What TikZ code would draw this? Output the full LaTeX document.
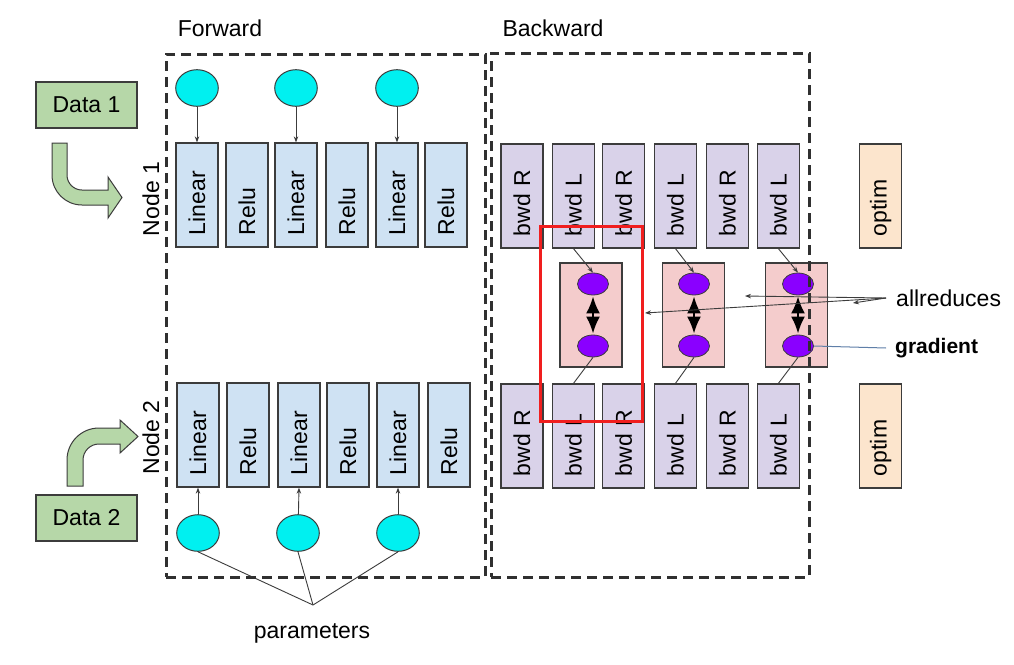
\documentclass[tikz,border=0pt]{standalone}
\usepackage{fontspec}
\setmainfont{Liberation Sans}
\usetikzlibrary{arrows.meta,shapes.geometric}

\definecolor{fwdblue}{HTML}{CFE2F3}
\definecolor{bwdlilac}{HTML}{D9D2E9}
\definecolor{optimpeach}{HTML}{FCE5CD}
\definecolor{reducepink}{HTML}{F4CCCC}
\definecolor{gradviolet}{HTML}{8A00FF}
\definecolor{paramcyan}{HTML}{00F0F0}
\definecolor{datagreen}{HTML}{B6D7A8}
\definecolor{edgegray}{HTML}{3C3C3C}
\definecolor{dashgray}{HTML}{303030}
\definecolor{gradline}{HTML}{5F7FA8}
\definecolor{focusred}{HTML}{F01E1E}

\newcommand\diagfont{\fontsize{23}{27}\selectfont}

\begin{document}
\begin{tikzpicture}[x=1pt,y=-1pt,
  every node/.style={font=\diagfont},
  layer/.style={draw=edgegray, line width=1.3pt, rotate=90, minimum height=42pt,
    text width=80pt, inner xsep=12pt, inner ysep=0pt, align=left},
  fwd/.style={layer, fill=fwdblue},
  bwd/.style={layer, fill=bwdlilac},
  opt/.style={layer, fill=optimpeach},
  param/.style={ellipse, draw=edgegray, line width=1pt, fill=paramcyan,
    minimum width=42.6pt, minimum height=36.6pt, inner sep=0pt},
  gradnode/.style={ellipse, draw=edgegray, line width=0.8pt, fill=gradviolet,
    minimum width=31pt, minimum height=22pt, inner sep=0pt},
  reducebox/.style={draw=edgegray, line width=1.3pt, fill=reducepink,
    minimum width=62pt, minimum height=104pt, inner sep=0pt},
  databox/.style={draw=edgegray, line width=1.3pt, fill=datagreen,
    minimum width=101pt, minimum height=46pt, inner sep=0pt},
  dashbox/.style={draw=dashgray, line width=3pt, dash pattern=on 10pt off 6pt,
    inner sep=0pt},
  bentarrow/.style={draw=edgegray, line width=1pt, fill=datagreen, line join=miter},
  thinarrow/.style={draw=edgegray, line width=0.9pt, -{Stealth[length=6pt,width=4.5pt]}},
  thinline/.style={draw=edgegray, line width=0.9pt},
  bothway/.style={line width=2.2pt, shorten <=1pt, shorten >=1pt,
    {Latex[length=17pt 0,width=14pt 0]}-{Latex[length=17pt 0,width=14pt 0]}},
]
\fill[white] (0,0) rectangle (1014,664);
\useasboundingbox (0,0) rectangle (1014,664);

% section titles
\node (fwdtitle) at (220,28) {Forward};
\node (bwdtitle) at (553,28) {Backward};

% input data and bent arrows
\node[databox] (d1) at (86.5,105) {Data 1};
\node[databox] (d2) at (86.5,518) {Data 2};
\path[bentarrow] (52,143) -- (67,143) -- (67,175)
  .. controls (67,183.3) and (73.7,190) .. (82,190) -- (108,190) -- (108,177)
  -- (122,197.5) -- (108,218) -- (108,205) -- (82,205)
  .. controls (65.4,205) and (52,191.6) .. (52,175) -- cycle;
\path[bentarrow] (67,486) -- (67,460)
  .. controls (67,442.3) and (81.3,428) .. (99,428) -- (120,428) -- (120,420)
  -- (138,436.5) -- (120,453) -- (120,444) -- (99,444)
  .. controls (90.2,444) and (83,451.2) .. (83,460) -- (83,486) -- cycle;

% worker labels
\node[rotate=90] (n1) at (151,199) {Node 1};
\node[rotate=90] (n2) at (151,437.5) {Node 2};

% forward layers
\foreach \x/\t [count=\i] in {197/Linear,247/Relu,296/Linear,347/Relu,397/Linear,446/Relu}
  \node[fwd] (fa\i) at (\x,195) {\t};
\foreach \x/\t [count=\i] in {198/Linear,248/Relu,299/Linear,348/Relu,398/Linear,449/Relu}
  \node[fwd] (fb\i) at (\x,435) {\t};

% parameters
\node[param] (pa1) at (197,88) {};
\node[param] (pa2) at (296,88) {};
\node[param] (pa3) at (397,88) {};
\node[param] (pb1) at (198,533) {};
\node[param] (pb2) at (298,533) {};
\node[param] (pb3) at (398,533) {};
\draw[thinarrow] (pa1) -- (fa1.east);
\draw[thinarrow] (pa2) -- (fa3.east);
\draw[thinarrow] (pa3) -- (fa5.east);
\draw[thinarrow] (pb1) -- (fb1.west);
\draw[thinarrow] (pb2) -- (fb3.west);
\draw[thinarrow] (pb3) -- (fb5.west);

\node (params) at (312,633) {parameters};
\coordinate (pj) at (313,605);
\draw[thinline] (pb1.south) -- (pj);
\draw[thinline] (pb2.south) -- (pj);
\draw[thinline] (pb3.south) -- (pj);

% backward layers
\foreach \x/\t [count=\i] in {522/bwd R,573.5/bwd L,623.7/bwd R,675.5/bwd L,727.5/bwd R,778.4/bwd L}{
  \node[bwd] (ba\i) at (\x,196) {\t};
  \node[bwd] (bb\i) at (\x,436) {\t};
}
\node[opt] (oa) at (880.7,196) {optim};
\node[opt] (ob) at (880.7,436) {optim};

% allreduce groups
\foreach \px/\gx [count=\i] in {591/593,693.7/694,796.4/798}{
  \node[reducebox] (r\i) at (\px,315) {};
  \node[gradnode] (gt\i) at (\gx,284) {};
  \node[gradnode] (gb\i) at (\gx,346) {};
  \draw[bothway] (gt\i.south) -- (gb\i.north);
}
\draw[thinarrow] (ba2.west) -- (gt1.north);
\draw[thinarrow] (ba4.west) -- (gt2.north);
\draw[thinarrow] (ba6.west) -- (gt3.north);
\draw[thinline] (gb1.south) -- (bb2.east);
\draw[thinline] (gb2.south) -- (bb4.east);
\draw[thinline] (gb3.south) -- (bb6.east);

% dashed phase frames
\node[dashbox, minimum width=319pt, minimum height=523pt] (fwdframe) at (325.5,315.5) {};
\node[dashbox, minimum width=318pt, minimum height=524pt] (bwdframe) at (650,315) {};

% annotations
\node[anchor=west, inner xsep=10pt, inner ysep=2pt] (ar) at (886,298) {allreduces};
\coordinate (ar1) at (645,313);
\coordinate (ar2) at (745,296);
\coordinate (ar3) at (853,303);
\draw[thinarrow] (ar.west) -- (ar1);
\draw[thinarrow] (ar.west) -- (ar2);
\draw[thinarrow] (ar.west) -- (ar3);
\node[anchor=west, inner xsep=9pt, inner ysep=2pt, font=\fontsize{21}{25}\selectfont\bfseries] (gr) at (886,348) {gradient};
\draw[gradline, line width=1pt] (gb3.east) -- (gr.west);

% highlighted group
\node[draw=focusred, line width=3pt, minimum width=102pt, minimum height=195pt, inner sep=0pt] (focus) at (591.7,323.5) {};
\end{tikzpicture}
\end{document}
